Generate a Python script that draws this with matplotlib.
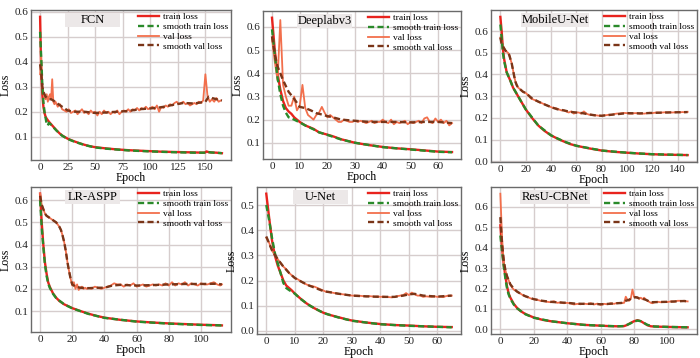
import matplotlib
matplotlib.use("Agg")
import matplotlib.pyplot as plt
from matplotlib.patches import Rectangle
from matplotlib.ticker import MultipleLocator, FormatStrFormatter

plt.rcParams['font.family'] = ['Liberation Serif', 'DejaVu Serif']

# ---------------- FCN ----------------
fcn_train_ep = [0,1,2,3,4,5,6,7,8,10,12,15,18,20,25,30,35,40,45,50,60,70,80,90,100,110,120,130,140,148,150,151,153,155,160,165]
fcn_train = [0.58,0.36,0.27,0.22,0.195,0.18,0.172,0.166,0.16,0.15,
             0.14,0.125,0.112,0.105,0.092,0.083,0.075,0.068,0.062,0.058,
             0.053,0.049,0.046,0.044,0.042,0.040,0.039,0.038,0.037,0.036,
             0.037,0.041,0.038,0.037,0.036,0.034]
fcn_strain_ep = [0,1,2,3,4,5,6,7,8,10,12,15,20,25,30,40,50,60,80,100,120,140,150,152,155,165]
fcn_strain = [0.52,0.42,0.31,0.24,0.2,0.175,0.15,0.145,0.155,0.148,
              0.138,0.124,0.104,0.091,0.082,0.067,0.057,0.052,0.045,0.041,
              0.038,0.036,0.036,0.039,0.037,0.034]
fcn_val_ep = list(range(0, 14)) + list(range(14, 166, 2))
fcn_val = [0.35,0.42,0.30,0.28,0.26,0.25,0.27,0.24,0.26,0.27,0.25,0.33,0.24,0.23,
           0.24,0.22,0.23,0.21,0.205,0.20,0.21,0.195,0.20,0.205,
           0.19,0.20,0.21,0.195,0.20,0.19,0.205,0.195,0.20,0.185,
           0.20,0.19,0.205,0.195,0.20,0.19,0.20,0.195,0.205,0.19,
           0.20,0.205,0.20,0.21,0.20,0.21,0.205,0.215,0.205,0.215,
           0.21,0.22,0.21,0.215,0.22,0.21,0.225,0.20,0.22,0.215,
           0.225,0.22,0.23,0.225,0.235,0.24,0.23,0.235,0.24,0.23,
           0.235,0.225,0.23,0.235,0.23,0.24,0.235,0.245,0.35,0.26,
           0.24,0.25,0.24,0.255,0.24,0.245]
fcn_sval_ep = [0,1,2,3,5,8,10,12,15,20,25,30,40,50,60,70,80,90,100,110,120,130,140,150,153,156,160,165]
fcn_sval = [0.39,0.36,0.30,0.28,0.26,0.25,0.25,0.245,0.235,0.22,
            0.205,0.20,0.20,0.195,0.197,0.20,0.203,0.21,0.213,0.218,
            0.227,0.235,0.233,0.24,0.26,0.255,0.25,0.245]

# ---------------- Deeplabv3 ----------------
dl_train_ep = [0,1,2,3,4,5,6,7,8,10,12,15,17,20,22,25,30,35,40,45,50,55,60,65]
dl_train = [0.64,0.5,0.4,0.33,0.28,0.25,0.235,0.225,0.21,0.19,0.175,0.16,0.145,0.135,0.128,0.115,0.1,0.09,0.082,0.076,0.072,0.067,0.062,0.06]
dl_strain_ep = [0,1,2,3,4,5,6,7,8,10,12,15,17,20,25,30,40,50,60,65]
dl_strain = [0.59,0.48,0.38,0.31,0.26,0.23,0.21,0.205,0.2,0.188,0.175,0.158,0.145,0.134,0.114,0.1,0.081,0.071,0.061,0.059]
dl_val_ep = list(range(0, 66))
dl_val = [0.55,0.45,0.37,0.63,0.35,0.30,0.26,0.26,0.30,0.24,
          0.26,0.35,0.25,0.22,0.21,0.20,0.22,0.23,0.255,0.23,
          0.21,0.22,0.21,0.20,0.19,0.19,0.20,0.195,0.19,0.19,
          0.195,0.19,0.195,0.19,0.185,0.19,0.195,0.185,0.19,0.19,
          0.20,0.19,0.185,0.20,0.18,0.19,0.185,0.19,0.195,0.18,
          0.19,0.185,0.19,0.195,0.185,0.205,0.21,0.19,0.185,0.205,
          0.19,0.20,0.185,0.195,0.175,0.185]
dl_sval_ep = [0,1,2,3,4,5,6,8,10,12,14,16,18,20,22,25,30,35,40,45,50,55,60,65]
dl_sval = [0.56,0.48,0.43,0.4,0.37,0.345,0.32,0.29,0.255,0.25,0.24,0.228,0.222,0.215,0.21,0.2,0.195,0.19,0.19,0.19,0.188,0.19,0.19,0.185]

# ---------------- MobileU-Net ----------------
mu_train_ep = [0,1,2,3,5,8,10,15,20,25,30,35,40,45,50,55,60,70,80,90,100,110,120,130,140,148]
mu_train = [0.665,0.6,0.52,0.47,0.41,0.37,0.34,0.29,0.24,0.2,0.165,0.14,0.12,0.105,0.092,0.08,0.072,0.06,0.05,0.044,0.04,0.036,0.033,0.031,0.03,0.029]
mu_strain_ep = [0,1,2,3,5,8,10,15,20,30,40,50,60,80,100,120,148]
mu_strain = [0.63,0.57,0.5,0.46,0.41,0.37,0.34,0.29,0.24,0.165,0.12,0.092,0.072,0.05,0.04,0.033,0.029]
mu_val_ep = list(range(0, 16)) + list(range(16, 149, 2))
mu_val = [0.57,0.55,0.53,0.52,0.51,0.505,0.50,0.49,0.47,0.45,0.42,0.39,0.365,0.35,0.34,0.335,
          0.33,0.32,0.315,0.305,0.29,0.285,0.28,0.275,0.27,0.265,
          0.26,0.255,0.25,0.245,0.245,0.24,0.235,0.235,0.23,0.225,
          0.23,0.22,0.225,0.225,0.22,0.23,0.22,0.215,0.215,0.212,
          0.212,0.21,0.21,0.212,0.213,0.215,0.215,0.218,0.22,0.22,
          0.222,0.223,0.222,0.22,0.22,0.222,0.222,0.22,0.22,0.22,
          0.222,0.224,0.222,0.224,0.225,0.224,0.225,0.226,0.225,0.226,
          0.225,0.226,0.227,0.226,0.227,0.226,0.228]
mu_sval_ep = [0,1,2,3,4,5,6,7,8,9,10,11,12,13,14,16,18,20,25,30,35,40,45,50,55,60,65,70,75,80,90,100,110,120,130,140,148]
mu_sval = [0.57,0.54,0.53,0.52,0.51,0.505,0.50,0.49,0.47,0.45,
           0.42,0.39,0.365,0.35,0.34,0.33,0.32,0.315,0.29,0.275,
           0.262,0.25,0.24,0.235,0.228,0.225,0.222,0.216,0.212,0.21,
           0.216,0.222,0.221,0.223,0.225,0.226,0.227]

# ---------------- LR-ASPP ----------------
lr_train_ep = [0,1,2,3,4,5,6,8,10,12,15,18,20,25,30,35,40,50,60,70,80,90,100,110,113]
lr_train = [0.63,0.5,0.4,0.32,0.27,0.23,0.21,0.18,0.16,0.145,0.13,0.12,0.113,0.1,0.088,0.078,0.07,0.06,0.053,0.048,0.044,0.041,0.038,0.036,0.035]
lr_strain_ep = [0,1,2,3,4,5,6,8,10,15,20,30,40,60,80,100,113]
lr_strain = [0.6,0.48,0.39,0.31,0.26,0.225,0.205,0.178,0.158,0.13,0.112,0.087,0.069,0.052,0.043,0.037,0.035]
lr_val_ep = list(range(0, 30)) + list(range(30, 114, 2)) + [113]
lr_val = [0.63,0.58,0.56,0.54,0.53,0.525,0.52,0.515,0.51,0.505,
          0.50,0.49,0.48,0.465,0.44,0.41,0.37,0.32,0.28,0.245,
          0.215,0.23,0.20,0.22,0.195,0.205,0.21,0.20,0.205,0.20,
          0.205,0.20,0.21,0.205,0.20,0.205,0.21,0.215,0.225,0.22,
          0.22,0.21,0.22,0.215,0.225,0.21,0.215,0.22,0.21,0.215,
          0.22,0.215,0.22,0.215,0.225,0.215,0.23,0.215,0.225,0.22,
          0.23,0.215,0.225,0.22,0.215,0.225,0.22,0.22,0.225,0.23,
          0.22,0.215,
          0.22]
lr_sval_ep = [0,1,2,3,4,5,6,8,10,11,12,13,14,15,16,17,18,19,20,22,25,30,35,40,45,50,60,70,80,90,100,110,113]
lr_sval = [0.62,0.58,0.56,0.54,0.53,0.525,0.52,0.51,0.50,
           0.49,0.48,0.465,0.44,0.41,0.37,0.32,0.28,0.245,0.22,
           0.21,0.205,0.203,0.205,0.205,0.215,0.218,
           0.215,0.217,0.22,0.222,0.222,0.223,0.22]

# ---------------- U-Net ----------------
un_train_ep = [0,1,2,3,4,5,6,7,8,9,10,12,14,16,18,20,22,25,28,30,35,40,45,50,55,60,65]
un_train = [0.545,0.45,0.36,0.30,0.26,0.23,0.2,0.18,0.17,0.16,0.148,0.128,0.11,0.095,0.083,0.072,0.064,0.055,0.046,0.041,0.033,0.027,0.023,0.021,0.018,0.016,0.015]
un_strain_ep = [0,1,2,3,4,5,6,7,8,10,12,15,20,25,30,40,50,60,65]
un_strain = [0.5,0.44,0.37,0.31,0.27,0.23,0.19,0.17,0.162,0.148,0.127,0.102,0.071,0.054,0.04,0.026,0.02,0.016,0.014]
un_val_ep = list(range(0, 66))
un_val = [0.37,0.35,0.32,0.30,0.285,0.27,0.255,0.245,0.23,0.22,
          0.21,0.205,0.198,0.19,0.185,0.18,0.178,0.175,0.17,0.165,
          0.16,0.155,0.155,0.152,0.15,0.148,0.146,0.145,0.143,0.142,
          0.14,0.14,0.14,0.139,0.138,0.137,0.138,0.137,0.136,0.137,
          0.135,0.136,0.135,0.134,0.133,0.135,0.138,0.14,0.142,0.15,
          0.142,0.152,0.145,0.14,0.14,0.135,0.137,0.136,0.135,0.137,
          0.135,0.136,0.134,0.138,0.14,0.14]
un_sval_ep = [0,2,4,6,8,10,12,15,20,25,30,35,40,45,48,50,52,55,60,65]
un_sval = [0.375,0.32,0.285,0.255,0.23,0.21,0.197,0.18,0.158,0.148,0.14,0.137,0.135,0.135,0.14,0.145,0.147,0.14,0.136,0.14]

# ---------------- ResU-CBNet ----------------
rc_train_ep = [0,1,2,3,4,5,6,8,10,12,15,20,25,30,35,40,45,50,55,60,65,70,74,76,78,80,82,84,86,88,90,95,100,105,112]
rc_train = [0.51,0.4,0.32,0.26,0.21,0.175,0.155,0.125,0.105,0.09,
            0.075,0.058,0.047,0.04,0.035,0.03,0.026,0.022,0.02,0.018,
            0.016,0.015,0.016,0.022,0.032,0.04,0.045,0.04,0.03,0.02,
            0.015,0.013,0.012,0.011,0.01]
rc_strain_ep = [0,1,2,3,4,5,6,8,10,15,20,30,40,50,60,70,74,78,80,82,84,88,92,100,112]
rc_strain = [0.46,0.38,0.31,0.25,0.2,0.17,0.15,0.122,0.103,0.074,0.057,0.04,0.03,0.022,0.018,0.015,0.016,0.03,0.038,0.043,0.04,0.022,0.014,0.012,0.01]
rc_val_ep = list(range(0, 10)) + list(range(10, 74, 2)) + list(range(74, 92)) + list(range(92, 113, 2))
rc_val = [0.665,0.45,0.33,0.29,0.26,0.24,0.22,0.205,0.195,0.19,
          0.185,0.175,0.165,0.16,0.152,0.148,0.145,0.14,0.138,0.135,
          0.133,0.138,0.13,0.132,0.128,0.13,0.127,0.122,0.125,0.123,
          0.126,0.124,0.128,0.122,0.126,0.12,0.125,0.123,0.128,0.125,
          0.13,0.128,
          0.13,0.16,0.145,0.14,0.15,0.195,0.16,0.155,0.158,0.15,
          0.155,0.148,0.155,0.145,0.14,0.135,0.13,0.128,
          0.132,0.135,0.133,0.135,0.134,0.137,0.136,0.14,0.14,0.138,0.137]
rc_sval_ep = [0,1,2,3,4,5,6,8,10,12,15,20,25,30,35,40,45,50,55,60,65,70,73,75,77,79,81,83,85,87,90,95,100,105,110,112]
rc_sval = [0.55,0.42,0.34,0.29,0.26,0.24,0.22,0.2,0.185,0.175,
           0.162,0.148,0.14,0.135,0.132,0.13,0.126,0.125,0.125,0.123,
           0.125,0.128,0.13,0.14,0.145,0.155,0.158,0.152,0.15,0.145,
           0.133,0.134,0.135,0.137,0.139,0.137]

titles = ['FCN', 'Deeplabv3', 'MobileU-Net', 'LR-ASPP', 'U-Net', 'ResU-CBNet']
series = [
    (fcn_train_ep, fcn_train, fcn_strain_ep, fcn_strain, fcn_val_ep, fcn_val, fcn_sval_ep, fcn_sval),
    (dl_train_ep, dl_train, dl_strain_ep, dl_strain, dl_val_ep, dl_val, dl_sval_ep, dl_sval),
    (mu_train_ep, mu_train, mu_strain_ep, mu_strain, mu_val_ep, mu_val, mu_sval_ep, mu_sval),
    (lr_train_ep, lr_train, lr_strain_ep, lr_strain, lr_val_ep, lr_val, lr_sval_ep, lr_sval),
    (un_train_ep, un_train, un_strain_ep, un_strain, un_val_ep, un_val, un_sval_ep, un_sval),
    (rc_train_ep, rc_train, rc_strain_ep, rc_strain, rc_val_ep, rc_val, rc_sval_ep, rc_sval),
]
xstep = [25, 10, 20, 20, 10, 20]

# layout in pixels: left, right, top, bottom
W, H = 700, 358
boxes = [(31, 231, 10, 160), (263, 461, 11, 159), (491, 697, 10, 162),
         (31, 231, 187, 332), (257, 461, 187, 334), (491, 697, 187, 334)]
title_w = [55, 55, 68, 55, 55, 70]

C_TRAIN = '#e8231d'
C_STRAIN = '#2a8a2a'
C_VAL = '#f26f4c'
C_SVAL = '#7a3518'

fig = plt.figure(figsize=(7, 3.58), dpi=100)
for i in range(6):
    l, r, t, b = boxes[i]
    ax = fig.add_axes([l / W, 1 - b / H, (r - l) / W, (b - t) / H])
    tr_e, tr, st_e, st, va_e, va, sv_e, sv = series[i]
    ax.plot(tr_e, tr, color=C_TRAIN, lw=1.7, label='train loss', zorder=2)
    ax.plot(st_e, st, color=C_STRAIN, lw=1.7, ls=(0, (2.6, 1.4)), label='smooth train loss', zorder=3)
    ax.plot(va_e, va, color=C_VAL, lw=1.3, label='val loss', zorder=2)
    ax.plot(sv_e, sv, color=C_SVAL, lw=1.7, ls=(0, (2.6, 1.4)), label='smooth val loss', zorder=3)
    ax.xaxis.set_major_locator(MultipleLocator(xstep[i]))
    ax.yaxis.set_major_locator(MultipleLocator(0.1))
    ax.yaxis.set_major_formatter(FormatStrFormatter('%.1f'))
    ax.grid(True, color='#d6cdcd', lw=1.0)
    ax.set_axisbelow(True)
    for s in ax.spines.values():
        s.set_color('#6a6a6a')
        s.set_linewidth(1.0)
    ax.tick_params(length=0, labelsize=8, pad=2, colors='#222222')
    ax.set_xlabel('Epoch', fontsize=8.5, labelpad=0)
    ax.set_ylabel('Loss', fontsize=8.5, labelpad=2)
    aw, ah = r - l, b - t
    bw = title_w[i] / aw
    bh = 14 / ah
    cx = 0.31
    ax.add_patch(Rectangle((cx - bw / 2, 1 - 3 / ah - bh), bw, bh, transform=ax.transAxes,
                           facecolor='#ece8e8', edgecolor='none', zorder=4))
    ax.text(cx, 1 - 3 / ah - bh / 2, titles[i], transform=ax.transAxes, ha='center', va='center',
            fontsize=9, zorder=5)
    ax.legend(loc='upper right', frameon=False, fontsize=6.8, handlelength=2.2,
              labelspacing=0.12, borderaxespad=0.1, handletextpad=0.4, borderpad=0.2)

fig.savefig('out.png', dpi=100)
